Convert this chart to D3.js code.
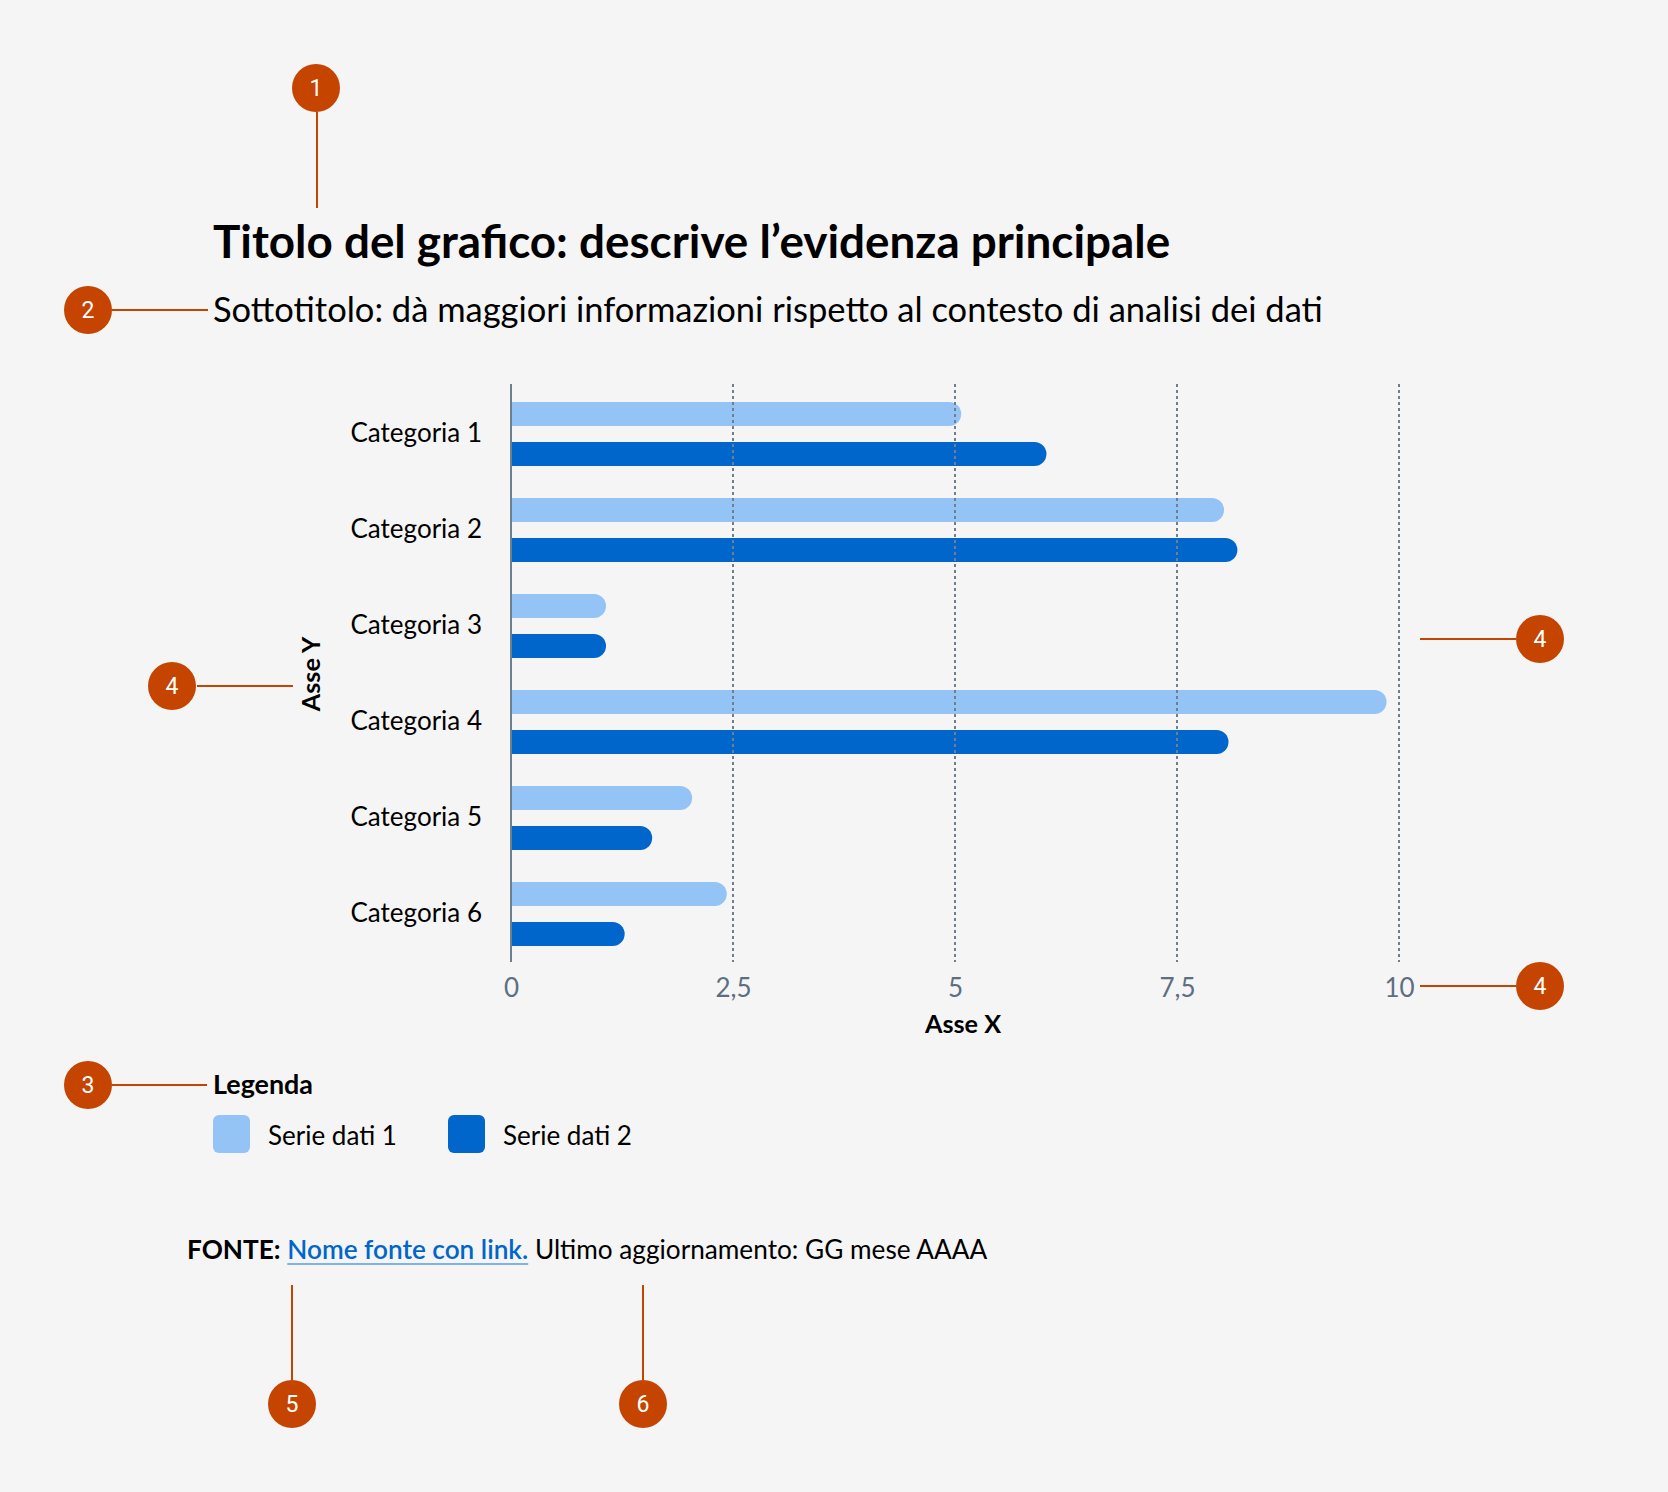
<!DOCTYPE html>
<html><head><meta charset="utf-8">
<script src="https://cdn.jsdelivr.net/npm/d3@7"></script>
<style>
html,body{margin:0;padding:0;background:#F5F5F5;}
svg{display:block;font-family:Lato,"Noto Sans",sans-serif;}
</style></head><body>
<svg id="chart" width="1668" height="1492"></svg>
<script>
// ---- data ----
const categories = ["Categoria 1", "Categoria 2", "Categoria 3", "Categoria 4", "Categoria 5", "Categoria 6"];
const seriesNames = ["Serie dati 1", "Serie dati 2"];
const serie1 = [5.07, 8.03, 1.07, 9.86, 2.04, 2.43];
const serie2 = [6.03, 8.18, 1.07, 8.08, 1.59, 1.28];
const xTicks = [0, 2.5, 5, 7.5, 10];
const seriesColors = ["#94C4F5", "#0066CC"];
const titleText = "Titolo del grafico: descrive l’evidenza principale";
const subtitleText = "Sottotitolo: dà maggiori informazioni rispetto al contesto di analisi dei dati";
const xLabel = "Asse X";
const yLabel = "Asse Y";
const legendTitle = "Legenda";
const sourceLabel = "FONTE:";
const sourceLink = "Nome fonte con link.";
const sourceUpdate = "Ultimo aggiornamento: GG mese AAAA";

const rows = categories.map((c, i) => ({cat: c, values: [serie1[i], serie2[i]]}));

const svg = d3.select("#chart");
const ANN = "#C44400";

// scales
const x = d3.scaleLinear().domain([0, 10]).range([511, 1399]);
const y0 = d3.scaleBand().domain(categories).range([386, 962]).padding(0);
const y1 = d3.scaleBand().domain(d3.range(seriesNames.length)).range([0, y0.bandwidth()]).paddingInner(0.4).paddingOuter(0.4);
const fmt = d3.formatLocale({decimal: ",", thousands: ".", grouping: [3], currency: ["€", ""]}).format("~g");

// title / subtitle
svg.append("text").attr("x", 213).attr("y", 258).attr("font-size", 45.8).attr("font-weight", 700).attr("fill", "#000").text(titleText);
svg.append("text").attr("x", 213).attr("y", 322).attr("font-size", 34.5).attr("font-weight", 400).attr("fill", "#000").text(subtitleText);

// bars
const barH = y1.bandwidth();
function barPath(x0, x1, yTop, h) {
  const r = h / 2;
  const w = Math.max(x1 - x0, r);
  return `M${x0},${yTop}H${x0 + w - r}A${r},${r} 0 0 1 ${x0 + w - r},${yTop + h}H${x0}Z`;
}
const g = svg.append("g");
rows.forEach(row => {
  row.values.forEach((v, j) => {
    g.append("path")
      .attr("d", barPath(x(0), x(v), y0(row.cat) + y1(j), barH))
      .attr("fill", seriesColors[j]);
  });
});

// grid lines
svg.append("g").selectAll("line").data(xTicks.filter(d => d > 0)).join("line")
  .attr("x1", d => x(d)).attr("x2", d => x(d)).attr("y1", 384).attr("y2", 962)
  .attr("stroke", "#6E7F90").attr("stroke-width", 2).attr("stroke-dasharray", "3,3");

// y axis line
svg.append("line").attr("x1", x(0)).attr("x2", x(0)).attr("y1", 384).attr("y2", 962)
  .attr("stroke", "#6F7F8F").attr("stroke-width", 2);

// x axis tick labels
const xAxis = d3.axisBottom(x).tickValues(xTicks).tickFormat(fmt).tickSize(0).tickPadding(0);
const xg = svg.append("g").attr("transform", "translate(0,979)").call(xAxis);
xg.select(".domain").remove();
xg.selectAll("text").attr("font-family", "Lato").attr("font-size", 26).attr("font-weight", 400).attr("fill", "#5C6F82").attr("dy", "0.71em");

// y axis category labels
const yAxis = d3.axisLeft(y0).tickSize(0).tickPadding(0);
const yg = svg.append("g").attr("transform", "translate(482,0)").call(yAxis);
yg.select(".domain").remove();
yg.selectAll("text").attr("font-family", "Lato").attr("font-size", 26).attr("fill", "#000").attr("dy", "0.32em");

// axis titles
svg.append("text").attr("x", 963).attr("y", 1033).attr("text-anchor", "middle").attr("font-size", 25.2).attr("font-weight", 700).attr("fill", "#000").text(xLabel);
svg.append("text").attr("transform", "translate(320,674) rotate(-90)").attr("text-anchor", "middle").attr("font-size", 25.2).attr("font-weight", 700).attr("fill", "#000").text(yLabel);

// legend
svg.append("text").attr("x", 213).attr("y", 1094).attr("font-size", 26.9).attr("font-weight", 700).attr("fill", "#000").text(legendTitle);
const legendX = [213, 448];
seriesNames.forEach((s, i) => {
  svg.append("rect").attr("x", legendX[i]).attr("y", 1115).attr("width", 37).attr("height", 38).attr("rx", 6).attr("fill", seriesColors[i]);
  svg.append("text").attr("x", legendX[i] + 55).attr("y", 1145).attr("font-size", 26).attr("fill", "#000").text(s);
});

// source
const src = svg.append("text").attr("x", 187).attr("y", 1259).attr("font-size", 26.2).attr("fill", "#000");
src.append("tspan").attr("font-weight", 700).text(sourceLabel);
src.append("tspan").text(" ");
src.append("tspan").attr("font-weight", 600).attr("fill", "#0066CC").text(sourceLink);
src.append("tspan").text(" ");
src.append("tspan").attr("font-weight", 400).text(sourceUpdate);
// underline for the link
const n = src.node();
const i0 = sourceLabel.length + 1, i1 = i0 + sourceLink.length - 1;
const ux0 = n.getStartPositionOfChar(i0).x, ux1 = n.getEndPositionOfChar(i1).x;
svg.append("line").attr("x1", ux0).attr("x2", ux1).attr("y1", 1264).attr("y2", 1264)
  .attr("stroke", "#7FB2EC").attr("stroke-width", 2);

// annotation markers
const ann = svg.append("g");
function marker(cx, cy, num, lx1, ly1, lx2, ly2) {
  ann.append("line").attr("x1", lx1).attr("y1", ly1).attr("x2", lx2).attr("y2", ly2).attr("stroke", ANN).attr("stroke-width", 2);
  ann.append("circle").attr("cx", cx).attr("cy", cy).attr("r", 24).attr("fill", ANN);
  ann.append("text").attr("x", cx).attr("y", cy).attr("dy", "0.36em").attr("text-anchor", "middle")
    .attr("font-family", "Roboto").attr("font-weight", 400).attr("font-size", 23).attr("fill", "#fff").text(num);
}
marker(316, 88, "1", 317, 112, 317, 208);
marker(88, 310, "2", 112, 310, 208, 310);
marker(88, 1085, "3", 112, 1085, 207, 1085);
marker(172, 686, "4", 197, 686, 293, 686);
marker(1540, 639, "4", 1420, 639, 1516, 639);
marker(1540, 986, "4", 1420, 986, 1516, 986);
marker(292, 1404, "5", 292, 1285, 292, 1380);
marker(643, 1404, "6", 643, 1285, 643, 1380);
</script>
</body></html>
